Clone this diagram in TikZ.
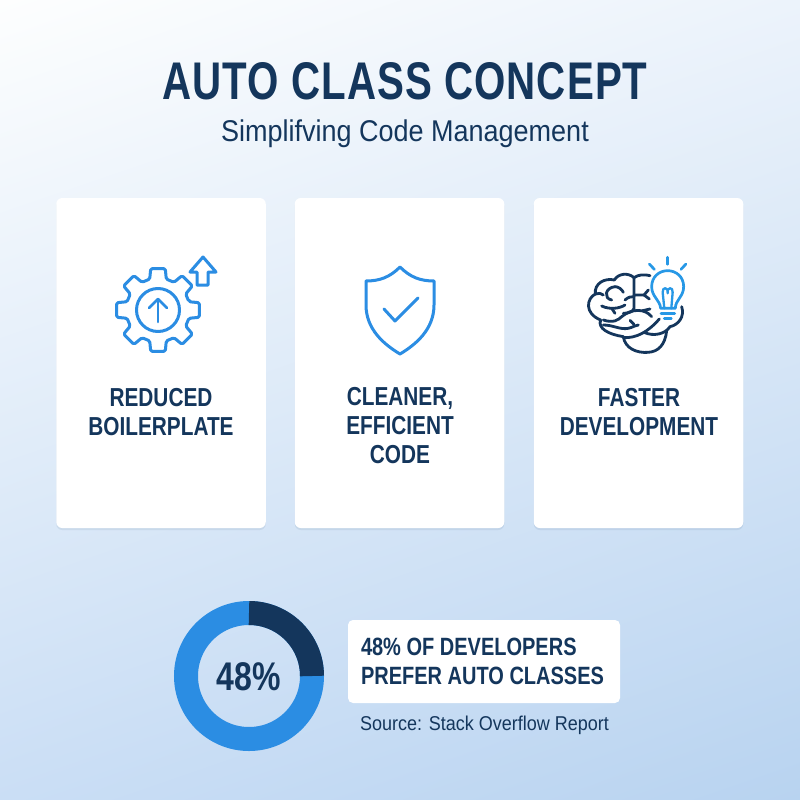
\documentclass[tikz,border=0pt]{standalone}
\usepackage{fontspec}
\setmainfont{Liberation Sans}
\newfontfamily\narrowfont[FakeStretch=0.8]{Liberation Sans}
\newfontfamily\titlefont[FakeStretch=0.76,LetterSpace=2]{Liberation Sans}
\newfontfamily\plainfont[FakeStretch=0.9]{Liberation Sans}
\usetikzlibrary{shadows,shadings}
\definecolor{navy}{HTML}{14365C}
\definecolor{iconblue}{HTML}{2B8DE3}
\definecolor{bgul}{HTML}{FDFEFE}
\definecolor{bgur}{HTML}{ECF3FB}
\definecolor{bgll}{HTML}{CADEF5}
\definecolor{bglr}{HTML}{B8D3F0}
\tikzset{
  card/.style={fill=white,rounded corners=6pt,minimum width=209.5pt,minimum height=330pt,inner sep=0pt,
    drop shadow={shadow xshift=0pt,shadow yshift=-2pt,opacity=.08,fill=navy}},
  cardlabel/.style={text=navy,align=center,inner sep=0pt,font=\narrowfont\bfseries\fontsize{26}{29}\selectfont},
  iconline/.style={draw=iconblue,line width=3pt,line join=round,line cap=round},
  brainline/.style={draw=navy,line width=2.8pt,line join=round,line cap=round},
  bulbline/.style={draw=iconblue!90!cyan,line width=2.7pt,line join=round,line cap=round},
}
\begin{document}
\begin{tikzpicture}[x=1pt,y=-1pt]
  \useasboundingbox (0,0) rectangle (800,800);
  \shade[upper left=bgul,upper right=bgur,lower left=bgll,lower right=bglr] (0,0) rectangle (800,800);
  % heading
  \node[text=navy,inner sep=0pt] (title) at (405,81) {\titlefont\bfseries\fontsize{53}{60}\selectfont AUTO CLASS CONCEPT};
  \node[text=navy,inner sep=0pt] (subtitle) at (405,134) {\plainfont\fontsize{30}{34}\selectfont Simplifving Code Management};
  % cards
  \node[card] (card1) at (161,363) {};
  \node[card] (card2) at (399.5,363) {};
  \node[card] (card3) at (638.5,363) {};
  \node[cardlabel] (label1) at (161,412) {REDUCED\\BOILERPLATE};
  \node[cardlabel] (label2) at (400,426) {CLEANER,\\EFFICIENT\\CODE};
  \node[cardlabel] (label3) at (639,412) {FASTER\\DEVELOPMENT};
  % gear
  \begin{scope}[shift={(158,310)}]
    \draw[iconline,rounded corners=1.5pt] (-15:32)
      \foreach \a in {0,45,...,315} {
        -- (\a-15:32) -- (\a-10:42) -- (\a+10:42) -- (\a+15:32)
      } -- cycle;
    \draw[iconline] (0,0) circle (21.5);
    \draw[iconline,line width=2.6pt] (0,12) -- (0,-11);
    \draw[iconline,line width=2.6pt] (-9,-2) -- (0,-11) -- (9,-2);
  \end{scope}
  \draw[iconline] (203,257) -- (216,272) -- (208,272) -- (208,285) -- (197,285) -- (197,272) -- (190,272) -- cycle;
  % shield
  \draw[iconline] (400,267) .. controls (390,277) and (380,281) .. (366,281)
    -- (366,305) .. controls (366,330) and (385,345) .. (400,354)
    .. controls (415,345) and (434,330) .. (434,305)
    -- (434,281) .. controls (420,281) and (410,277) .. (400,267) -- cycle;
  \draw[iconline] (384,309) -- (395,321) -- (418,298);
  % brain and bulb
  \begin{scope}[shift={(570,245)},x=.3333pt,y=-.3333pt]
    \draw[brainline] (192,98) .. controls (175,82) and (145,85) .. (133,105)
      .. controls (105,98) and (72,115) .. (76,147)
      .. controls (50,160) and (42,205) .. (92,225)
      .. controls (82,250) and (115,268) .. (160,275)
      .. controls (165,310) and (200,325) .. (235,322)
      .. controls (265,320) and (285,300) .. (290,258);
    \draw[brainline] (192,98) .. controls (205,88) and (225,88) .. (240,92);
    \draw[brainline] (192,98) -- (192,190) .. controls (190,200) and (175,205) .. (160,205);
    \draw[brainline] (335,185) .. controls (345,215) and (325,240) .. (300,245)
      .. controls (285,268) and (250,275) .. (222,262);
    \draw[brainline] (135,125) .. controls (105,128) and (100,160) .. (125,165);
    \draw[brainline] (135,125) .. controls (145,125) and (155,132) .. (160,142);
    \draw[brainline] (76,147) .. controls (85,143) and (95,145) .. (100,150);
    \draw[brainline] (192,150) -- (222,150) -- (235,135);
    \draw[brainline] (222,150) -- (238,162);
    \draw[brainline] (165,165) .. controls (175,155) and (185,155) .. (192,155);
    \draw[brainline] (95,183) .. controls (120,195) and (150,190) .. (165,180);
    \draw[brainline] (125,190) -- (135,205);
    \draw[brainline] (100,225) .. controls (130,235) and (145,225) .. (155,215)
      .. controls (185,190) and (225,190) .. (245,215);
    \draw[brainline] (218,197) -- (240,192);
    \draw[brainline] (100,240) .. controls (130,240) and (150,255) .. (175,250)
      .. controls (190,247) and (195,240) .. (205,240);
    \draw[brainline] (180,226) -- (192,238);
    \draw[brainline] (160,278) .. controls (200,280) and (235,260) .. (268,222);
    % bulb
    \draw[bulbline,fill=white] (272,190) .. controls (270,165) and (245,155) .. (245,125)
      .. controls (245,95) and (268,77) .. (293,77)
      .. controls (318,77) and (341,95) .. (341,125)
      .. controls (341,155) and (316,165) .. (316,190) -- cycle;
    \draw[bulbline,line width=2.3pt] (283,190) -- (278,142) .. controls (276,125) and (296,125) .. (293,145)
      .. controls (290,125) and (310,125) .. (308,142) -- (304,190);
    \draw[bulbline] (273,205) -- (314,205);
    \draw[bulbline] (283,220) -- (304,220);
    \draw[bulbline] (293,37) -- (293,58);
    \draw[bulbline] (238,57) -- (253,73);
    \draw[bulbline] (348,57) -- (333,73);
  \end{scope}
  % donut
  \draw[iconblue,line width=24pt] (249,676) circle (63);
  \draw[navy,line width=24pt] (249,613) arc (-90:0:63);
  \node[text=navy,inner sep=0pt] (percent) at (249,677) {\narrowfont\bfseries\fontsize{40}{44}\selectfont 48\%};
  % stat box
  \node[fill=white,rounded corners=5pt,minimum width=272pt,minimum height=83pt,inner sep=0pt] (statbox) at (484,661.5) {};
  \node[text=navy,align=left,inner sep=0pt,font=\narrowfont\bfseries\fontsize{25}{29}\selectfont] (stat) at (482.5,661.5) {48\% OF DEVELOPERS\\PREFER AUTO CLASSES};
  \node[text=navy,inner sep=0pt] (source) at (484.5,725) {\plainfont\fontsize{20}{24}\selectfont Source: Stack Overflow Report};
\end{tikzpicture}
\end{document}
